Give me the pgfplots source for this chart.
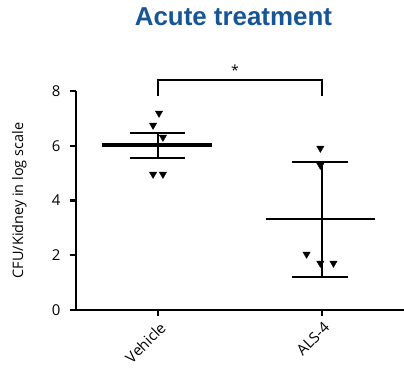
\documentclass[border=0pt]{standalone}
\usepackage{fontspec}
\setmainfont{Open Sans}
\newfontfamily\titlefont{Liberation Sans}
\usepackage{pgfplots}
\pgfplotsset{compat=1.18}
\definecolor{titleblue}{RGB}{22,86,150}
\begin{document}
\begin{tikzpicture}
\path[use as bounding box] (-76bp,-61bp) rectangle (328bp,310bp);
\begin{axis}[
  scale only axis, width=328bp, height=219bp,
  xmin=0.5, xmax=2.5, ymin=0, ymax=8,
  axis x line*=bottom, axis y line*=left,
  axis line style={line width=2.6bp,-},
  xtick={1,2}, xticklabels={Vehicle,ALS-4},
  ytick={0,2,4,6,8},
  tick align=outside, major tick length=6bp,
  tick style={line width=2.2bp,black},
  /pgf/number format/assume math mode=true,
  yticklabel style={font=\fontsize{15}{18}\selectfont, xshift=-6bp},
  xticklabel style={font=\fontsize{15}{18}\selectfont, rotate=45, anchor=north east, inner sep=1bp, xshift=-2bp, yshift=-3bp},
  ylabel={CFU/Kidney in log scale},
  ylabel style={font=\fontsize{14.5}{17}\selectfont, at={(axis description cs:-0.15,0.5)}, anchor=south, inner sep=0pt},
  clip=false,
]
% Vehicle points
\addplot[only marks, mark=triangle*, mark size=4.2bp, mark options={rotate=180, fill=black, draw=black}]
  coordinates {(1.006,7.19) (0.97,6.75) (1.03,6.31) (0.97,4.96) (1.03,4.96)};
% ALS-4 points
\addplot[only marks, mark=triangle*, mark size=4.2bp, mark options={rotate=180, fill=black, draw=black}]
  coordinates {(1.99,5.91) (1.99,5.29) (1.906,2.04) (1.99,1.71) (2.07,1.71)};
% Vehicle mean and error bars
\addplot[line width=3.5bp, black] coordinates {(0.658,6.02) (1.33,6.02)};
\addplot[line width=2.4bp, black] coordinates {(1,5.55) (1,6.46)};
\addplot[line width=2.4bp, black] coordinates {(0.827,6.46) (1.167,6.46)};
\addplot[line width=2.4bp, black] coordinates {(0.827,5.55) (1.167,5.55)};
% ALS-4 mean and error bars
\addplot[line width=1.6bp, black] coordinates {(1.658,3.32) (2.324,3.32)};
\addplot[line width=2.4bp, black] coordinates {(2,1.20) (2,5.40)};
\addplot[line width=2.4bp, black] coordinates {(1.82,5.40) (2.16,5.40)};
\addplot[line width=2.4bp, black] coordinates {(1.82,1.20) (2.16,1.20)};
% significance bracket
\addplot[line width=2bp, black] coordinates {(1,7.8) (1,8.39) (2,8.39) (2,7.8)};
\node[font=\fontsize{14}{16}\selectfont, anchor=center] at (axis cs:1.47,8.76) {*};
\node[font=\titlefont\bfseries\fontsize{26}{30}\selectfont, text=titleblue, anchor=base, inner sep=0pt] at (axis description cs:0.48,1.0) [yshift=66bp] {Acute treatment};
\end{axis}
\end{tikzpicture}
\end{document}
